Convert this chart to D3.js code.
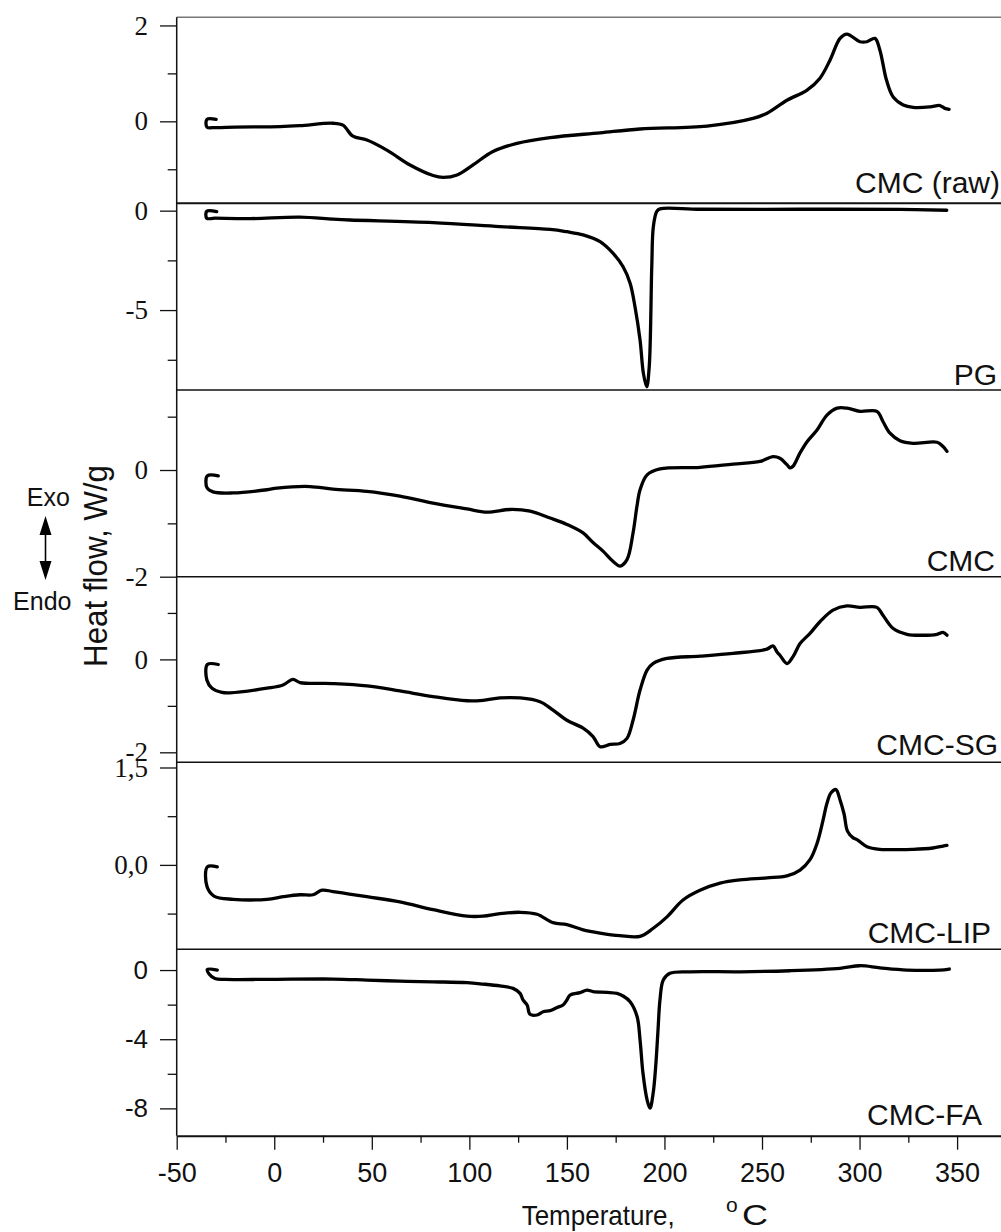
<!DOCTYPE html>
<html>
<head>
<meta charset="utf-8">
<script src="https://cdn.jsdelivr.net/npm/d3@7"></script>
<style>
  body { margin: 0; background: #fff; }
  svg { display: block; }
</style>
</head>
<body>
<div id="chart"></div>
<script>
// sample names, one per stacked panel (top to bottom)
const sampleNames = ["CMC (raw)", "PG", "CMC", "CMC-SG", "CMC-LIP", "CMC-FA"];

// DSC traces: [temperature °C, heat flow W/g]
const cmcRaw = [
  [-29.8, 0.04], [-34.5, 0.04], [-34.5, -0.12], [-30, -0.13], [-20, -0.12], [3.0, -0.11],
  [13.2, -0.09], [30.1, -0.04], [35.2, -0.08], [40.3, -0.31], [47.5, -0.39], [57.7, -0.60],
  [69.6, -0.91], [81.4, -1.13], [86.5, -1.17], [93.7, -1.12], [101.9, -0.91], [112.1, -0.63],
  [124.4, -0.46], [141.4, -0.34], [167.0, -0.24], [187.5, -0.16], [221.8, -0.10], [245.4, 0.06],
  [252.6, 0.17], [262.8, 0.44], [273.1, 0.65], [279.7, 0.90], [284.9, 1.28], [290.0, 1.73],
  [293.5, 1.82], [300.2, 1.66], [303.8, 1.66], [307.9, 1.73], [310.4, 1.49], [313.8, 0.86],
  [317.2, 0.51], [322.4, 0.34], [327.5, 0.29], [336.1, 0.30], [341.2, 0.33], [343.8, 0.27],
  [345.9, 0.25]
];
const pg = [
  [-29.5, -0.05], [-34.6, -0.03], [-34.6, -0.38], [-30.4, -0.38], [-12.4, -0.40], [13.2, -0.33],
  [30.1, -0.43], [38.8, -0.47], [81.4, -0.60], [115.7, -0.80], [141.4, -0.94], [150.0, -1.06],
  [158.3, -1.22], [167.0, -1.56], [173.6, -2.14], [178.8, -2.82], [182.4, -3.65], [184.9, -4.83],
  [187.5, -6.51], [189.2, -8.18], [190.9, -8.86], [192.2, -7.85], [193.5, -2.82], [194.3, -0.81],
  [196.0, -0.05], [197.7, 0.09], [218.2, 0.07], [269.5, 0.07], [320.7, 0.06], [344.7, 0.02]
];
const cmc = [
  [-28.7, -0.11], [-34.3, -0.11], [-34.5, -0.33], [-31.4, -0.41], [-21.1, -0.43], [-3.7, -0.37],
  [1.4, -0.34], [18.3, -0.31], [30.1, -0.36], [47.5, -0.40], [64.4, -0.49], [81.4, -0.62],
  [98.8, -0.73], [109.0, -0.79], [120.8, -0.74], [131.1, -0.77], [141.4, -0.90], [150.0, -1.02],
  [158.3, -1.18], [163.4, -1.36], [168.5, -1.52], [173.6, -1.71], [177.2, -1.80], [180.8, -1.68],
  [183.9, -1.18], [185.9, -0.68], [187.5, -0.37], [191.1, -0.09], [197.8, 0.02], [218.2, 0.05],
  [235.1, 0.11], [249.0, 0.16], [255.6, 0.25], [259.2, 0.22], [262.8, 0.10], [264.4, 0.04],
  [265.9, 0.07], [269.5, 0.32], [273.1, 0.53], [278.2, 0.75], [283.3, 1.03], [288.5, 1.16],
  [293.6, 1.16], [300.2, 1.10], [308.9, 1.10], [312.0, 0.91], [315.6, 0.69], [320.7, 0.55],
  [327.4, 0.50], [339.7, 0.52], [342.8, 0.44], [344.8, 0.35]
];
const cmcSg = [
  [-28.7, -0.11], [-34.3, -0.11], [-34.5, -0.45], [-31.9, -0.62], [-26.8, -0.71], [-22.7, -0.72],
  [-3.7, -0.62], [4.5, -0.55], [9.6, -0.43], [13.2, -0.50], [30.1, -0.52], [47.5, -0.57],
  [64.4, -0.68], [81.4, -0.80], [98.8, -0.89], [107.0, -0.88], [115.7, -0.83], [126.0, -0.83],
  [136.2, -0.91], [142.9, -1.09], [150.0, -1.31], [158.3, -1.48], [163.4, -1.66], [167.0, -1.88],
  [172.1, -1.83], [177.2, -1.81], [180.8, -1.70], [183.9, -1.31], [187.5, -0.66], [191.1, -0.23],
  [194.1, -0.09], [201.3, 0.02], [218.2, 0.07], [235.1, 0.13], [252.5, 0.22], [255.6, 0.29],
  [257.7, 0.16], [259.2, 0.09], [262.8, -0.09], [265.9, 0.06], [269.5, 0.34], [274.6, 0.56],
  [279.7, 0.81], [286.4, 1.06], [293.5, 1.15], [300.2, 1.12], [308.9, 1.12], [312.0, 0.95],
  [317.1, 0.67], [324.3, 0.54], [332.5, 0.52], [339.7, 0.54], [342.8, 0.58], [344.8, 0.52]
];
const cmcLip = [
  [-29.2, -0.03], [-34.3, -0.03], [-34.5, -0.33], [-30.9, -0.48], [-21.1, -0.53], [-3.7, -0.53],
  [4.5, -0.49], [13.2, -0.46], [19.9, -0.46], [24.5, -0.39], [30.1, -0.41], [47.5, -0.49],
  [64.4, -0.57], [81.4, -0.69], [98.8, -0.79], [107.0, -0.79], [115.7, -0.75], [126.0, -0.73],
  [134.7, -0.76], [142.9, -0.89], [150.0, -0.92], [158.3, -1.00], [167.0, -1.05], [177.2, -1.09],
  [187.5, -1.10], [194.1, -0.98], [201.3, -0.80], [209.5, -0.54], [218.2, -0.39], [228.5, -0.28],
  [238.7, -0.23], [252.6, -0.20], [262.8, -0.17], [269.5, -0.08], [274.6, 0.08], [278.2, 0.33],
  [281.3, 0.69], [283.3, 0.95], [285.4, 1.11], [287.9, 1.16], [290.0, 1.00], [292.1, 0.78],
  [293.8, 0.52], [296.6, 0.42], [298.7, 0.39], [303.8, 0.28], [310.4, 0.24], [327.4, 0.24],
  [337.6, 0.26], [342.8, 0.29], [344.8, 0.30]
];
const cmcFa = [
  [-29.2, 0.00], [-34.3, 0.03], [-33.4, -0.23], [-30.4, -0.49], [-25.2, -0.54], [-3.7, -0.54],
  [30.1, -0.52], [47.5, -0.58], [64.4, -0.64], [81.4, -0.68], [98.8, -0.73], [107.0, -0.81],
  [115.7, -0.92], [122.4, -1.06], [126.0, -1.35], [127.5, -1.73], [129.6, -2.02], [131.1, -2.56],
  [134.7, -2.60], [137.8, -2.41], [141.4, -2.35], [145.0, -2.16], [148.0, -2.02], [150.0, -1.73],
  [151.6, -1.45], [156.7, -1.31], [160.3, -1.16], [163.4, -1.25], [170.6, -1.29], [175.7, -1.35],
  [178.8, -1.50], [182.4, -1.83], [186.0, -2.70], [187.5, -4.05], [189.0, -5.97], [191.1, -7.51],
  [192.6, -7.99], [194.2, -7.13], [195.5, -5.59], [196.7, -3.47], [197.7, -1.73], [199.4, -0.58],
  [202.8, -0.19], [213.1, -0.10], [238.7, -0.10], [264.4, -0.04], [290.0, 0.10], [300.2, 0.25],
  [310.4, 0.13], [324.3, 0.00], [341.2, 0.00], [346.0, 0.06]
];
const allSeries = [cmcRaw, pg, cmc, cmcSg, cmcLip, cmcFa];

// axis ranges and ticks
const xDomain = [-50, 372.5];
const xMajorTicks = [-50, 0, 50, 100, 150, 200, 250, 300, 350];
const xTickLabels = ["-50", "0", "50", "100", "150", "200", "250", "300", "350"];
const xMinorTicks = [-25, 25, 75, 125, 175, 225, 275, 325];
const yDomains = [[-1.71, 2.17], [-9.02, 0.37], [-2, 1.5], [-2.215, 1.78], [-1.30, 1.58], [-9.58, 1.2]];
const yMajorTicks = [[0, 2], [-5, 0], [-2, 0], [-2, 0], [0, 1.5], [-8, -4, 0]];
const yTickLabels = [["0", "2"], ["-5", "0"], ["-2", "0"], ["-2", "0"], ["0,0", "1,5"], ["-8", "-4", "0"]];
const yMinorTicks = [[-1, 1], [-7.5, -2.5], [-1, 1], [-1, 1], [-0.75, 0.75], [-6, -2]];

// layout
const width = 1001, height = 1232;
const plotLeft = 176.7, plotRight = 1001;
const panelEdges = [17.3, 203.3, 390, 576.7, 762.3, 949.3, 1135.7];
const labelRight = [1000, 997, 995, 998, 991, 982];
const labelLift = [10, 5, 6, 7.3, 6.6, 10.7];
const sans = "'Liberation Sans', Arial, Helvetica, sans-serif";
const serif = "'Liberation Serif', 'Times New Roman', serif";

const svg = d3.select("#chart")
    .append("svg")
    .attr("width", width)
    .attr("height", height)
    .style("background-color", "white");

const x = d3.scaleLinear().domain(xDomain).range([plotLeft, plotRight]);

const line = d3.line()
    .curve(d3.curveCatmullRom.alpha(0.5));

allSeries.forEach((data, i) => {
    const top = panelEdges[i], bottom = panelEdges[i + 1];
    const y = d3.scaleLinear().domain(yDomains[i]).range([bottom, top]);
    const tickFont = i === 5 ? sans : serif;

    // major ticks with labels
    const major = svg.append("g")
        .attr("transform", "translate(" + plotLeft + ",0)")
        .call(d3.axisLeft(y)
            .tickValues(yMajorTicks[i])
            .tickFormat((d, k) => yTickLabels[i][k])
            .tickSize(16.7)
            .tickSizeOuter(0)
            .tickPadding(12));
    major.select(".domain").remove();
    major.selectAll("line").attr("stroke", "#111").attr("stroke-width", 1.3);
    major.selectAll("text")
        .attr("font-family", tickFont)
        .attr("font-size", i === 5 ? 26 : 27)
        .attr("fill", "#111");

    // minor ticks
    const minor = svg.append("g")
        .attr("transform", "translate(" + plotLeft + ",0)")
        .call(d3.axisLeft(y)
            .tickValues(yMinorTicks[i])
            .tickFormat("")
            .tickSize(9)
            .tickSizeOuter(0));
    minor.select(".domain").remove();
    minor.selectAll("line").attr("stroke", "#111").attr("stroke-width", 1.3);

    // trace
    svg.append("path")
        .datum(data)
        .attr("fill", "none")
        .attr("stroke", "#000")
        .attr("stroke-width", 3.3)
        .attr("stroke-linejoin", "round")
        .attr("stroke-linecap", "round")
        .attr("d", line.x(d => x(d[0])).y(d => y(d[1])));

    // sample label
    svg.append("text")
        .attr("x", labelRight[i])
        .attr("y", bottom - labelLift[i])
        .attr("text-anchor", "end")
        .attr("font-family", sans)
        .attr("font-size", 30)
        .attr("fill", "#111")
        .text(sampleNames[i]);
});

// panel separators
panelEdges.slice(1, -1).forEach((py, k) => {
    svg.append("line")
        .attr("x1", plotLeft).attr("x2", plotRight)
        .attr("y1", py).attr("y2", py)
        .attr("stroke", "#111")
        .attr("stroke-width", k === 0 ? 2 : 1.5);
});

// frame: top and left
svg.append("line")
    .attr("x1", plotLeft).attr("x2", plotRight)
    .attr("y1", panelEdges[0]).attr("y2", panelEdges[0])
    .attr("stroke", "#777").attr("stroke-width", 1.5);
svg.append("line")
    .attr("x1", plotLeft).attr("x2", plotLeft)
    .attr("y1", panelEdges[0]).attr("y2", panelEdges[6])
    .attr("stroke", "#111").attr("stroke-width", 1.5);

// x axis
const xMajor = svg.append("g")
    .attr("transform", "translate(0," + panelEdges[6] + ")")
    .call(d3.axisBottom(x)
        .tickValues(xMajorTicks)
        .tickFormat((d, k) => xTickLabels[k])
        .tickSize(14)
        .tickSizeOuter(0)
        .tickPadding(13));
xMajor.select(".domain").attr("stroke", "#111").attr("stroke-width", 2);
xMajor.selectAll("line").attr("stroke", "#111").attr("stroke-width", 1.3);
xMajor.selectAll("text")
    .attr("font-family", sans)
    .attr("font-size", 27)
    .attr("fill", "#111");

const xMinor = svg.append("g")
    .attr("transform", "translate(0," + panelEdges[6] + ")")
    .call(d3.axisBottom(x).tickValues(xMinorTicks).tickFormat("").tickSize(7).tickSizeOuter(0));
xMinor.select(".domain").remove();
xMinor.selectAll("line").attr("stroke", "#111").attr("stroke-width", 1.3);

// x axis title
svg.append("text")
    .attr("x", 521.7).attr("y", 1225)
    .attr("font-family", sans).attr("font-size", 28)
    .attr("textLength", 153).attr("lengthAdjust", "spacingAndGlyphs")
    .attr("fill", "#111")
    .text("Temperature,");
svg.append("text")
    .attr("x", 726).attr("y", 1212)
    .attr("font-family", sans).attr("font-size", 21)
    .attr("fill", "#111")
    .text("o");
svg.append("text")
    .attr("x", 742).attr("y", 1225)
    .attr("font-family", sans).attr("font-size", 29)
    .attr("textLength", 26).attr("lengthAdjust", "spacingAndGlyphs")
    .attr("fill", "#111")
    .text("C");

// y axis title
svg.append("text")
    .attr("transform", "translate(107,566) rotate(-90)")
    .attr("text-anchor", "middle")
    .attr("font-family", sans).attr("font-size", 34)
    .attr("textLength", 202).attr("lengthAdjust", "spacingAndGlyphs")
    .attr("fill", "#111")
    .text("Heat flow, W/g");

// Exo / Endo hint with double arrow
svg.append("text")
    .attr("x", 48.3).attr("y", 506)
    .attr("text-anchor", "middle")
    .attr("font-family", sans).attr("font-size", 25)
    .attr("fill", "#111")
    .text("Exo");
svg.append("text")
    .attr("x", 42.3).attr("y", 610)
    .attr("text-anchor", "middle")
    .attr("font-family", sans).attr("font-size", 25)
    .attr("fill", "#111")
    .text("Endo");
svg.append("line")
    .attr("x1", 45.5).attr("x2", 45.5)
    .attr("y1", 530).attr("y2", 566)
    .attr("stroke", "#000").attr("stroke-width", 1.6);
svg.append("path")
    .attr("d", "M45.5,516 L39.5,535 L51.5,535 Z M45.5,580 L39.5,561 L51.5,561 Z")
    .attr("fill", "#000");
</script>
</body>
</html>
